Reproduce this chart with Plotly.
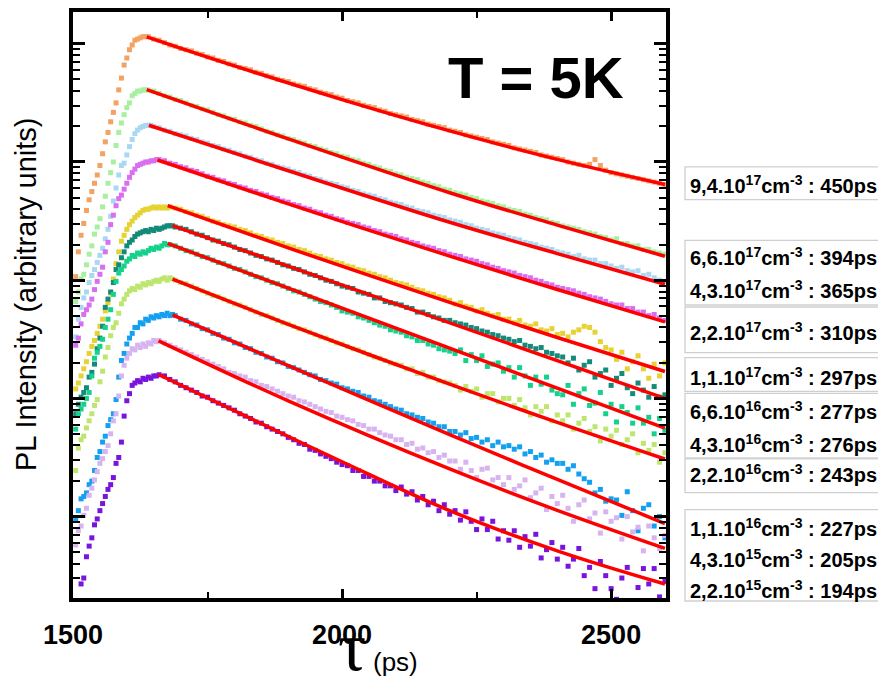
import numpy as np
import plotly.graph_objects as go

# ---------------- sampling of the PL transients (ps) ----------------
RISE_STEP = 5      # ps between points on the rising edge
DECAY_STEP = 10    # ps between points on the decay
T_END = 2600       # last time of every decay

# ---------------- series description ----------------
densities = ["9,4.10<sup>17</sup>", "6,6.10<sup>17</sup>", "4,3.10<sup>17</sup>",
             "2,2.10<sup>17</sup>", "1,1.10<sup>17</sup>", "6,6.10<sup>16</sup>",
             "4,3.10<sup>16</sup>", "2,2.10<sup>16</sup>", "1,1.10<sup>16</sup>",
             "4,3.10<sup>15</sup>", "2,2.10<sup>15</sup>"]
lifetimes_ps = [450, 394, 365, 310, 297, 277, 276, 243, 227, 205, 194]
colors = ["#F2A263", "#A6F0A0", "#AAD8F2", "#DA6EF0", "#E6D232", "#148A78",
          "#14D28C", "#BEE66E", "#14A0F0", "#D7B4F0", "#7814DC"]
rise_start_ps = [1505, 1505, 1505, 1505, 1505, 1505, 1505, 1505, 1505, 1505, 1515]

# ---------------- data: log10 of PL intensity (arbitrary units) ----------------
orange_rise = [3.03, 3.24, 3.38, 3.48, 3.59, 3.68, 3.75, 3.82, 3.89, 3.97, 4.07, 4.17, 4.25, 4.34,
               4.42, 4.50, 4.61, 4.71, 4.82, 4.88, 4.95, 4.99, 5.03, 5.04, 5.05, 5.06, 5.06]
orange_decay = [5.06, 5.04, 5.03, 5.01, 4.99, 4.98, 4.96,
                4.95, 4.94, 4.92, 4.91, 4.89, 4.88, 4.86, 4.85, 4.83, 4.82,
                4.80, 4.79, 4.78, 4.76, 4.75, 4.73, 4.72, 4.70, 4.69, 4.68,
                4.66, 4.65, 4.64, 4.62, 4.61, 4.59, 4.58, 4.57, 4.55, 4.54,
                4.52, 4.51, 4.50, 4.48, 4.47, 4.46, 4.44, 4.43, 4.41, 4.40,
                4.39, 4.38, 4.36, 4.35, 4.34, 4.32, 4.31, 4.30, 4.29, 4.27,
                4.26, 4.25, 4.23, 4.22, 4.21, 4.20, 4.19, 4.17, 4.16, 4.15,
                4.14, 4.12, 4.11, 4.10, 4.09, 4.08, 4.06, 4.05, 4.04, 4.03,
                4.02, 4.00, 3.99, 3.98, 3.97, 3.98, 4.02, 3.97, 3.93, 3.91,
                3.90, 3.89, 3.88, 3.87, 3.86, 3.85, 3.84, 3.83, 3.82, 3.81]

green_rise = [2.82, 2.90, 3.01, 3.05, 3.13, 3.22, 3.29, 3.39, 3.45, 3.52, 3.62, 3.71, 3.82, 3.91,
              4.00, 4.14, 4.25, 4.33, 4.40, 4.46, 4.50, 4.56, 4.58, 4.60, 4.60, 4.61, 4.61]
green_decay = [4.61, 4.60, 4.58, 4.56, 4.55, 4.53, 4.52,
               4.50, 4.48, 4.47, 4.45, 4.44, 4.42, 4.40, 4.39, 4.37, 4.36,
               4.34, 4.33, 4.31, 4.30, 4.28, 4.26, 4.25, 4.23, 4.22, 4.20,
               4.19, 4.17, 4.16, 4.14, 4.13, 4.11, 4.10, 4.08, 4.07, 4.05,
               4.04, 4.02, 4.01, 3.99, 3.98, 3.96, 3.95, 3.93, 3.92, 3.90,
               3.89, 3.87, 3.86, 3.85, 3.83, 3.82, 3.80, 3.79, 3.77, 3.76,
               3.74, 3.73, 3.72, 3.70, 3.69, 3.67, 3.66, 3.65, 3.63, 3.62,
               3.60, 3.59, 3.58, 3.56, 3.55, 3.53, 3.52, 3.51, 3.49, 3.48,
               3.46, 3.45, 3.44, 3.43, 3.41, 3.40, 3.39, 3.37, 3.36, 3.34,
               3.35, 3.31, 3.31, 3.29, 3.29, 3.26, 3.26, 3.24, 3.23, 3.22]

lightblue_rise = [2.52, 2.67, 2.77, 2.85, 2.90, 2.98, 3.04, 3.09, 3.15, 3.21, 3.27, 3.35, 3.43,
                  3.54, 3.67, 3.78, 3.89, 3.97, 3.99, 4.06, 4.13, 4.19, 4.24, 4.27, 4.29, 4.30,
                  4.31, 4.31, 4.31]
lightblue_decay = [4.30, 4.29, 4.27, 4.26, 4.24, 4.23,
                   4.22, 4.20, 4.19, 4.17, 4.16, 4.14, 4.13, 4.11, 4.10, 4.08,
                   4.07, 4.05, 4.04, 4.02, 4.01, 3.99, 3.98, 3.96, 3.95, 3.94,
                   3.92, 3.91, 3.89, 3.88, 3.86, 3.85, 3.83, 3.82, 3.81, 3.79,
                   3.78, 3.76, 3.75, 3.73, 3.72, 3.71, 3.69, 3.68, 3.66, 3.65,
                   3.64, 3.62, 3.61, 3.59, 3.58, 3.57, 3.55, 3.54, 3.53, 3.51,
                   3.50, 3.49, 3.47, 3.46, 3.44, 3.43, 3.42, 3.40, 3.39, 3.38,
                   3.36, 3.35, 3.34, 3.32, 3.31, 3.30, 3.28, 3.27, 3.26, 3.24,
                   3.23, 3.22, 3.20, 3.21, 3.18, 3.17, 3.17, 3.14, 3.14, 3.12,
                   3.10, 3.11, 3.08, 3.07, 3.08, 3.04, 3.05, 3.02, 3.00, 2.99]

magenta_rise = [2.45, 2.51, 2.63, 2.71, 2.75, 2.79, 2.84, 2.92, 2.99, 3.05, 3.11, 3.24, 3.32, 3.47,
                3.55, 3.63, 3.69, 3.72, 3.77, 3.82, 3.87, 3.91, 3.94, 3.97, 3.98, 3.99, 4.00, 4.00,
                4.01, 4.01, 4.02]
magenta_decay = [4.02, 4.01, 3.99, 3.98, 3.96,
                 3.95, 3.93, 3.92, 3.90, 3.88, 3.87, 3.85, 3.84, 3.82, 3.81,
                 3.79, 3.78, 3.76, 3.75, 3.73, 3.72, 3.70, 3.69, 3.67, 3.66,
                 3.64, 3.63, 3.61, 3.60, 3.58, 3.57, 3.55, 3.54, 3.52, 3.51,
                 3.49, 3.48, 3.47, 3.45, 3.44, 3.42, 3.41, 3.39, 3.38, 3.37,
                 3.35, 3.34, 3.32, 3.31, 3.29, 3.28, 3.27, 3.25, 3.24, 3.22,
                 3.21, 3.20, 3.18, 3.17, 3.16, 3.14, 3.13, 3.11, 3.10, 3.08,
                 3.07, 3.06, 3.04, 3.03, 3.02, 3.00, 2.99, 2.97, 2.96, 2.94,
                 2.93, 2.92, 2.91, 2.89, 2.88, 2.86, 2.85, 2.84, 2.82, 2.80,
                 2.79, 2.79, 2.76, 2.76, 2.73, 2.73, 2.70, 2.71, 2.68, 2.66]

yellow_rise = [2.08, 2.13, 2.19, 2.25, 2.31, 2.38, 2.44, 2.49, 2.55, 2.61, 2.67, 2.74, 2.81, 2.89,
               3.01, 3.14, 3.24, 3.33, 3.38, 3.43, 3.47, 3.50, 3.53, 3.55, 3.57, 3.59, 3.60, 3.60,
               3.61, 3.62, 3.61, 3.62, 3.61, 3.62, 3.61]
yellow_decay = [3.62, 3.61, 3.60,
                3.58, 3.57, 3.55, 3.54, 3.52, 3.50, 3.49, 3.47, 3.46, 3.45,
                3.43, 3.42, 3.40, 3.38, 3.37, 3.35, 3.34, 3.32, 3.31, 3.29,
                3.28, 3.26, 3.25, 3.23, 3.21, 3.20, 3.18, 3.17, 3.15, 3.14,
                3.12, 3.11, 3.09, 3.08, 3.06, 3.05, 3.03, 3.02, 3.00, 2.98,
                2.97, 2.96, 2.94, 2.92, 2.91, 2.89, 2.88, 2.86, 2.85, 2.83,
                2.80, 2.81, 2.78, 2.77, 2.74, 2.75, 2.72, 2.70, 2.71, 2.67,
                2.67, 2.64, 2.66, 2.62, 2.61, 2.63, 2.58, 2.57, 2.59, 2.54,
                2.55, 2.52, 2.56, 2.58, 2.61, 2.60, 2.56, 2.48, 2.43, 2.41,
                2.33, 2.39, 2.25, 2.31, 2.36, 2.25, 2.17, 2.29, 2.19, 2.30]

teal_rise = [1.87, 1.95, 2.01, 2.05, 2.09, 2.18, 2.22, 2.29, 2.42, 2.51, 2.61, 2.77, 2.84, 2.90,
             2.98, 3.09, 3.13, 3.19, 3.24, 3.29, 3.32, 3.34, 3.37, 3.39, 3.40, 3.41, 3.42, 3.41,
             3.43, 3.42, 3.44, 3.43, 3.44, 3.45, 3.46, 3.46, 3.46]
teal_decay = [3.45, 3.44,
              3.43, 3.41, 3.39, 3.38, 3.36, 3.34, 3.33, 3.31, 3.30, 3.28,
              3.26, 3.25, 3.23, 3.21, 3.20, 3.18, 3.17, 3.15, 3.13, 3.12,
              3.10, 3.09, 3.07, 3.05, 3.04, 3.02, 3.00, 2.99, 2.97, 2.95,
              2.94, 2.93, 2.90, 2.89, 2.88, 2.85, 2.85, 2.82, 2.81, 2.80,
              2.79, 2.77, 2.76, 2.73, 2.73, 2.71, 2.69, 2.68, 2.66, 2.66,
              2.64, 2.63, 2.62, 2.60, 2.59, 2.57, 2.56, 2.54, 2.53, 2.51,
              2.50, 2.48, 2.49, 2.45, 2.44, 2.42, 2.43, 2.39, 2.38, 2.36,
              2.35, 2.30, 2.34, 2.24, 2.28, 2.31, 2.18, 2.21, 2.24, 2.11,
              2.17, 2.21, 2.09, 2.04, 2.13, 2.07, 2.01, 2.10, 2.01, 2.03]

greenteal_rise = [1.74, 1.87, 1.91, 1.95, 2.00, 2.05, 2.19, 2.34, 2.39, 2.44, 2.50, 2.60, 2.67,
                  2.75, 2.88, 2.99, 3.06, 3.09, 3.12, 3.16, 3.18, 3.21, 3.20, 3.23, 3.22, 3.24,
                  3.23, 3.25, 3.27, 3.26, 3.28, 3.27, 3.29, 3.31, 3.30]
greenteal_decay = [3.30, 3.29, 3.27,
                   3.25, 3.24, 3.22, 3.20, 3.19, 3.17, 3.15, 3.14, 3.12, 3.10,
                   3.09, 3.07, 3.05, 3.03, 3.02, 3.00, 2.98, 2.97, 2.95, 2.93,
                   2.91, 2.90, 2.88, 2.86, 2.84, 2.82, 2.81, 2.79, 2.77, 2.74,
                   2.73, 2.72, 2.69, 2.68, 2.66, 2.64, 2.62, 2.61, 2.58, 2.57,
                   2.56, 2.53, 2.52, 2.49, 2.49, 2.46, 2.45, 2.42, 2.41, 2.40,
                   2.38, 2.41, 2.32, 2.37, 2.32, 2.36, 2.27, 2.29, 2.30, 2.23,
                   2.26, 2.18, 2.26, 2.19, 2.11, 2.18, 2.12, 2.18, 2.07, 2.04,
                   2.03, 2.11, 1.95, 2.04, 2.08, 1.94, 1.96, 2.05, 1.87, 1.95,
                   1.80, 1.93, 1.88, 1.79, 1.92, 1.79, 1.84, 1.70, 1.83, 1.73]

yellowgreen_rise = [1.39, 1.58, 1.65, 1.68, 1.75, 1.81, 1.87, 1.94, 1.99, 2.14, 2.23, 2.35, 2.43,
                    2.53, 2.60, 2.64, 2.72, 2.80, 2.84, 2.88, 2.91, 2.93, 2.92, 2.95, 2.94, 2.97,
                    2.96, 2.98, 2.97, 2.99, 3.00, 2.99, 3.01, 3.02, 3.00, 3.02, 3.01]
yellowgreen_decay = [3.00, 2.98,
                     2.97, 2.95, 2.93, 2.91, 2.89, 2.87, 2.86, 2.84, 2.82, 2.80,
                     2.79, 2.77, 2.75, 2.73, 2.71, 2.70, 2.68, 2.66, 2.64, 2.63,
                     2.61, 2.59, 2.58, 2.56, 2.54, 2.52, 2.51, 2.49, 2.47, 2.46,
                     2.44, 2.42, 2.41, 2.39, 2.37, 2.35, 2.34, 2.32, 2.30, 2.29,
                     2.28, 2.25, 2.25, 2.21, 2.22, 2.18, 2.18, 2.15, 2.14, 2.13,
                     2.11, 2.07, 2.10, 2.06, 2.08, 2.01, 2.04, 2.04, 1.97, 2.00,
                     2.00, 1.94, 1.99, 1.92, 1.86, 1.93, 1.89, 1.93, 1.81, 1.86,
                     1.81, 1.86, 1.74, 1.79, 1.83, 1.72, 1.76, 1.64, 1.74, 1.68,
                     1.73, 1.61, 1.65, 1.70, 1.54, 1.62, 1.56, 1.61, 1.46, 1.54]

azure_rise = [0.97, 1.05, 1.15, 1.17, 1.20, 1.27, 1.30, 1.39, 1.50, 1.55, 1.63, 1.68, 1.77, 1.82,
              1.87, 1.99, 2.18, 2.32, 2.38, 2.46, 2.51, 2.55, 2.60, 2.60, 2.64, 2.63, 2.67, 2.66,
              2.69, 2.68, 2.70, 2.69, 2.71, 2.70, 2.72, 2.70, 2.71]
azure_decay = [2.70, 2.67,
               2.66, 2.63, 2.62, 2.59, 2.58, 2.55, 2.54, 2.51, 2.50, 2.47,
               2.46, 2.43, 2.42, 2.39, 2.38, 2.35, 2.34, 2.31, 2.30, 2.27,
               2.26, 2.24, 2.22, 2.20, 2.19, 2.16, 2.15, 2.13, 2.12, 2.09,
               2.08, 2.06, 2.05, 2.02, 2.01, 1.98, 1.97, 1.95, 1.93, 1.91,
               1.90, 1.87, 1.86, 1.84, 1.83, 1.80, 1.79, 1.76, 1.76, 1.72,
               1.72, 1.69, 1.71, 1.66, 1.67, 1.63, 1.65, 1.60, 1.63, 1.59,
               1.60, 1.57, 1.59, 1.53, 1.55, 1.50, 1.52, 1.46, 1.48, 1.45,
               1.45, 1.40, 1.43, 1.36, 1.32, 1.29, 1.20, 1.23, 1.13, 1.15,
               1.14, 1.01, 1.21, 1.05, 0.88, 1.07, 1.10, 0.92, 1.00, 0.82]

lavender_rise = [0.76, 0.88, 0.92, 1.01, 1.07, 1.18, 1.24, 1.31, 1.38, 1.45, 1.49, 1.55, 1.60,
                 1.70, 1.81, 1.87, 2.02, 2.19, 2.28, 2.34, 2.38, 2.42, 2.41, 2.45, 2.43, 2.46,
                 2.44, 2.47, 2.46, 2.49, 2.48]
lavender_decay = [2.49, 2.47, 2.45, 2.43, 2.41,
                  2.39, 2.37, 2.35, 2.33, 2.31, 2.29, 2.27, 2.25, 2.22, 2.21,
                  2.19, 2.18, 2.15, 2.14, 2.11, 2.10, 2.08, 2.06, 2.04, 2.02,
                  2.01, 1.98, 1.97, 1.95, 1.93, 1.91, 1.89, 1.88, 1.85, 1.84,
                  1.82, 1.81, 1.78, 1.77, 1.74, 1.74, 1.71, 1.69, 1.68, 1.65,
                  1.65, 1.61, 1.62, 1.57, 1.58, 1.54, 1.55, 1.50, 1.52, 1.47,
                  1.47, 1.40, 1.46, 1.39, 1.33, 1.40, 1.41, 1.31, 1.33, 1.27,
                  1.33, 1.23, 1.26, 1.31, 1.16, 1.20, 1.24, 1.06, 1.17, 1.11,
                  1.18, 1.07, 0.96, 1.10, 1.14, 0.98, 1.03, 0.86, 1.04, 0.96,
                  0.99, 0.81, 1.00, 0.87, 0.91, 0.71, 0.92, 0.82, 0.73, 0.84]

purple_rise = [0.43, 0.48, 0.66, 0.75, 0.82, 0.93, 0.98, 1.05, 1.11, 1.17, 1.23, 1.27, 1.33, 1.45,
               1.50, 1.63, 1.85, 1.98, 2.04, 2.11, 2.13, 2.15, 2.14, 2.17, 2.16, 2.18, 2.17, 2.19,
               2.19]
purple_decay = [2.20, 2.19, 2.16, 2.14, 2.11,
                2.09, 2.07, 2.05, 2.02, 2.01, 1.98, 1.96, 1.94, 1.92, 1.90,
                1.87, 1.85, 1.83, 1.80, 1.79, 1.76, 1.74, 1.72, 1.70, 1.67,
                1.65, 1.62, 1.61, 1.57, 1.56, 1.53, 1.51, 1.49, 1.46, 1.44,
                1.43, 1.39, 1.39, 1.34, 1.34, 1.30, 1.30, 1.26, 1.26, 1.22,
                1.25, 1.19, 1.21, 1.14, 1.17, 1.10, 1.13, 1.05, 1.10, 1.02,
                1.05, 0.97, 1.04, 0.96, 0.89, 0.98, 0.89, 0.96, 0.81, 0.88,
                0.80, 0.88, 0.74, 0.83, 0.75, 0.85, 0.65, 0.72, 0.78, 0.64,
                0.74, 0.58, 0.64, 0.73, 0.50, 0.57, 0.39, 0.62, 0.50, 0.39,
                0.30, 0.48, 0.57, 0.21, 0.40, 0.56, 0.43, 0.56, 0.32, 0.45]

# ---------------- mono-exponential fits (red lines): times (ps), log10 intensity ----------------
fit_t = [
    [1637, 1800, 2000, 2200, 2400, 2600],
    [1637, 1900, 2200, 2400, 2600],
    [1641, 1900, 2200, 2400, 2600],
    [1657, 1900, 2200, 2400, 2600],
    [1676, 1900, 2200, 2400, 2600],
    [1685, 2600],
    [1676, 2600],
    [1685, 1900, 2200, 2400, 2600],
    [1685, 1900, 2200, 2400, 2600],
    [1659, 1900, 2200, 2400, 2600],
    [1659, 1800, 2000, 2200, 2400, 2600],
]
fit_logI = [
    [5.059, 4.813, 4.528, 4.263, 4.022, 3.810],
    [4.613, 4.196, 3.740, 3.466, 3.202],
    [4.311, 3.926, 3.490, 3.225, 2.966],
    [4.017, 3.645, 3.204, 2.921, 2.647],
    [3.630, 3.273, 2.812, 2.515, 2.227],
    [3.462, 2.000],
    [3.311, 1.748],
    [3.008, 2.627, 2.120, 1.797, 1.487],
    [2.706, 2.277, 1.693, 1.314, 0.941],
    [2.487, 1.979, 1.403, 1.053, 0.731],
    [2.202, 1.895, 1.464, 1.050, 0.710, 0.429],
]

rises = [orange_rise, green_rise, lightblue_rise, magenta_rise, yellow_rise, teal_rise,
         greenteal_rise, yellowgreen_rise, azure_rise, lavender_rise, purple_rise]
decays = [orange_decay, green_decay, lightblue_decay, magenta_decay, yellow_decay, teal_decay,
          greenteal_decay, yellowgreen_decay, azure_decay, lavender_decay, purple_decay]

# ---------------- layout geometry ----------------
# the page body keeps its default 8 px margin, so the figure is sized to fit inside the window
BODY = 8
WIN_W, WIN_H = 886, 689
W, H = WIN_W - BODY, WIN_H - BODY
# plot area in window pixels
PL, PR, PT, PB = 73, 666, 8, 598


def fx(px):
    return (px - PL) / (PR - PL)


def fy(py):
    return (PB - py) / (PB - PT)


fig = go.Figure()

for i in range(len(rises)):
    r = np.array(rises[i], dtype=float)
    d = np.array(decays[i], dtype=float)
    t_r = rise_start_ps[i] + RISE_STEP * np.arange(len(r))
    t_d = T_END - DECAY_STEP * np.arange(len(d))[::-1]
    t = np.concatenate([t_r, t_d])
    y = 10 ** np.concatenate([r, d])
    fig.add_trace(go.Scatter(x=t, y=y, mode="markers",
                             marker=dict(symbol="square", size=5, color=colors[i],
                                         line=dict(width=0)),
                             showlegend=False, hoverinfo="skip"))

for i in range(len(fit_t)):
    fig.add_trace(go.Scatter(x=fit_t[i], y=10 ** np.array(fit_logI[i]), mode="lines",
                             line=dict(color="#FF0000", width=3.5, shape="spline"),
                             showlegend=False, hoverinfo="skip"))

axis_font = dict(family="Liberation Sans, Arial, sans-serif", size=27, color="black", weight="bold")

fig.update_layout(
    width=W, height=H,
    margin=dict(l=PL - BODY, r=W - (PR - BODY), t=PT - BODY, b=H - (PB - BODY), pad=0),
    paper_bgcolor="white", plot_bgcolor="white",
    showlegend=False,
    xaxis=dict(range=[1500, 2602], tickvals=[1500, 2000, 2500], ticks="inside", ticklen=9,
               tickwidth=2.5, tickcolor="black", showline=True, linewidth=3.5, linecolor="black",
               mirror="ticks", showgrid=False, zeroline=False, tickfont=axis_font,
               ticklabelstandoff=10,
               minor=dict(tick0=1500, dtick=250, ticks="inside", ticklen=6, tickwidth=2,
                          tickcolor="black", showgrid=False)),
    yaxis=dict(type="log", range=[0.311, 5.269], dtick=1, ticks="inside", ticklen=12,
               tickwidth=2.5, tickcolor="black", showticklabels=False, showline=True,
               linewidth=3.5, linecolor="black", mirror="ticks", showgrid=False, zeroline=False,
               minor=dict(ticks="inside", ticklen=7, tickwidth=2, tickcolor="black",
                          showgrid=False)),
)

annotations = []
annotations.append(dict(x=fx(536), y=fy(74), xref="paper", yref="paper", showarrow=False,
                        text="<b>T = 5K</b>", xanchor="center", yanchor="middle",
                        font=dict(family="Liberation Sans, Arial", size=58, color="black")))
annotations.append(dict(x=fx(26), y=fy(292), xref="paper", yref="paper", showarrow=False,
                        text="PL Intensity (arbitrary units)", textangle=-90,
                        xanchor="center", yanchor="middle",
                        font=dict(family="Liberation Sans, Arial", size=29, color="black")))
annotations.append(dict(x=fx(352), y=fy(647), xref="paper", yref="paper", showarrow=False,
                        text="τ", xanchor="center", yanchor="middle",
                        font=dict(family="Liberation Serif, serif", size=70, color="black")))
annotations.append(dict(x=fx(395), y=fy(662), xref="paper", yref="paper", showarrow=False,
                        text="(ps)", xanchor="center", yanchor="middle",
                        font=dict(family="Liberation Sans, Arial", size=26, color="black")))

label_y = [182, 254, 287, 330, 375, 409, 442, 473, 527, 558, 589]
for i in range(len(densities)):
    annotations.append(dict(x=fx(688), y=fy(label_y[i]), xref="paper", yref="paper",
                            showarrow=False, xanchor="left", yanchor="middle",
                            text="<b>%scm<sup>-3</sup> : %dps</b>" % (densities[i], lifetimes_ps[i]),
                            font=dict(family="Liberation Sans, Arial", size=20, color="black")))
fig.update_layout(annotations=annotations)

boxes = [(164, 197), (238, 303), (305, 351), (356, 390), (392, 457), (458, 492), (509, 601)]
shapes = []
for top, bot in boxes:
    shapes.append(dict(type="rect", xref="paper", yref="paper", x0=fx(685), x1=fx(892),
                       y0=fy(bot), y1=fy(top), line=dict(color="#CFCFCF", width=1.3),
                       fillcolor="rgba(0,0,0,0)", layer="above"))
fig.update_layout(shapes=shapes)

fig.write_html("out.html")
